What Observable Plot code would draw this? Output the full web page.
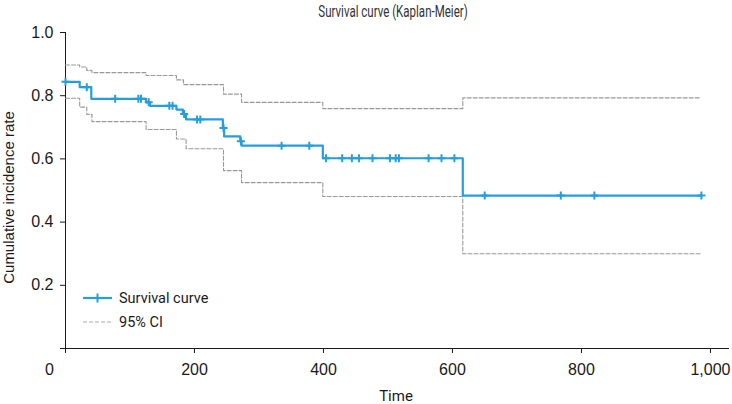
<!DOCTYPE html>
<html><head><meta charset="utf-8">
<script src="https://cdn.jsdelivr.net/npm/d3@7"></script>
<script src="https://cdn.jsdelivr.net/npm/@observablehq/plot@0.6"></script>
<style>
body{margin:0;background:#fff}
#wrap{position:relative;width:732px;height:404px}
#legend{position:absolute;left:0;top:0;pointer-events:none}
</style>
</head><body><div id="wrap"></div>
<script>
// Kaplan-Meier step curve (time of step, survival after the step)
const kmTime = [0, 22, 40, 125, 131, 172, 182, 187, 244, 246, 271, 273, 399, 616, 986];
const kmSurv = [0.844, 0.827, 0.790, 0.779, 0.768, 0.756, 0.742, 0.725, 0.698, 0.671, 0.656, 0.642, 0.602, 0.484, 0.484];
// censored observation times
const censorTime = [0, 33, 77, 113, 117, 129, 161, 166, 184, 204, 209, 245, 272, 335, 378, 404, 429, 444, 455, 476, 503, 512, 517, 563, 583, 603, 650, 768, 820, 986];
// 95% CI bounds
const ciUpperTime = [0, 22, 33, 41, 125, 172, 183, 245, 273, 399, 616, 984];
const ciUpper = [0.897, 0.891, 0.880, 0.873, 0.864, 0.850, 0.835, 0.805, 0.779, 0.759, 0.793, 0.793];
const ciLowerTime = [0, 22, 33, 41, 125, 172, 187, 245, 273, 399, 616, 984];
const ciLower = [0.792, 0.764, 0.741, 0.718, 0.693, 0.663, 0.632, 0.563, 0.525, 0.481, 0.300, 0.300];
// axis ticks
const xTicks = [0, 200, 400, 600, 800, 1000];
const yTicks = [0, 0.2, 0.4, 0.6, 0.8, 1.0];
const titleText = "Survival curve (Kaplan-Meier)";
const xLabel = "Time";
const yLabel = "Cumulative incidence rate";
const legendLabels = ["Survival curve", "95% CI"];

const blue = "#259fdb";
const km = kmTime.map((t, i) => ({t, s: kmSurv[i]}));
const survAt = t => { let s = kmSurv[0]; for (let i = 0; i < kmTime.length; i++) if (kmTime[i] <= t) s = kmSurv[i]; return s; };
const censors = censorTime.map(t => ({t, s: survAt(t)}));
const upper = ciUpperTime.map((t, i) => ({t, s: ciUpper[i]}));
const lower = ciLowerTime.map((t, i) => ({t, s: ciLower[i]}));

const chart = Plot.plot({
  width: 732, height: 404,
  marginLeft: 65, marginRight: 4, marginTop: 32, marginBottom: 56,
  x: {domain: [0, 1028]},
  y: {domain: [0, 1]},
  style: {fontFamily: "'Liberation Sans', Arial, sans-serif", fontSize: "16px", color: "#1a1a1a", background: "#fff", overflow: "visible"},
  marks: [
    Plot.axisY({ticks: yTicks, tickFormat: d => d === 0 ? "" : d.toFixed(1), tickSize: 5, tickPadding: 7, label: null, fontSize: 16}),
    Plot.axisX({ticks: xTicks, tickFormat: d => d === 0 ? "" : d3.format(",")(d), tickSize: 5, tickPadding: 10, label: null, fontSize: 16}),
    Plot.axisX({ticks: [0], tickFormat: () => "0", tickSize: 0, tickPadding: 15, dx: -16, label: null, fontSize: 16}),
    Plot.frame({anchor: "left", stroke: "#1a1a1a"}),
    Plot.frame({anchor: "bottom", stroke: "#1a1a1a"}),
    Plot.line(upper, {x: "t", y: "s", curve: "step-after", stroke: "#999", strokeWidth: 1.1, strokeDasharray: "4,2"}),
    Plot.line(lower, {x: "t", y: "s", curve: "step-after", stroke: "#999", strokeWidth: 1.1, strokeDasharray: "4,2"}),
    Plot.line(km, {x: "t", y: "s", curve: "step-after", stroke: blue, strokeWidth: 2.2}),
    Plot.dot(censors, {x: "t", y: "s", symbol: "plus", r: 2.7, stroke: blue, strokeWidth: 2}),
    Plot.text([titleText], {frameAnchor: "top", lineAnchor: "middle", textAnchor: "middle", dy: -21, dx: -4, fontFamily: "Roboto", fontSize: 16, fill: "#333", className: "ttl"}),
    Plot.text([xLabel], {frameAnchor: "bottom", lineAnchor: "middle", textAnchor: "middle", dy: 48, dx: -1, fontFamily: "Roboto", fontSize: 15, fill: "#1a1a1a"}),
    Plot.text([yLabel], {frameAnchor: "left", lineAnchor: "middle", textAnchor: "middle", rotate: -90, dx: -56, dy: 7, fontSize: 15, fill: "#1a1a1a"})
  ]
});
const wrap = document.getElementById("wrap");
wrap.appendChild(chart);

// condense the title glyphs horizontally around its own centre
const tt = chart.querySelector(".ttl text");
if (tt) {
  const b = tt.getBBox();
  const cx = b.x + b.width / 2;
  tt.setAttribute("transform", (tt.getAttribute("transform") || "") + ` translate(${cx},0) scale(0.72,1) translate(${-cx},0)`);
}

// legend overlay
const ns = "http://www.w3.org/2000/svg";
const lg = document.createElementNS(ns, "svg");
lg.setAttribute("id", "legend"); lg.setAttribute("width", 732); lg.setAttribute("height", 404);
const items = [
  {label: legendLabels[0], y: 298, stroke: blue, w: 2.2, dash: null, tick: true},
  {label: legendLabels[1], y: 322, stroke: "#aaa", w: 1.1, dash: "4,2", tick: false}
];
items.forEach(it => {
  const l = document.createElementNS(ns, "line");
  l.setAttribute("x1", 83); l.setAttribute("x2", 112); l.setAttribute("y1", it.y); l.setAttribute("y2", it.y);
  l.setAttribute("stroke", it.stroke); l.setAttribute("stroke-width", it.w);
  if (it.dash) l.setAttribute("stroke-dasharray", it.dash);
  lg.appendChild(l);
  if (it.tick) {
    const v = document.createElementNS(ns, "line");
    v.setAttribute("x1", 97.5); v.setAttribute("x2", 97.5); v.setAttribute("y1", it.y - 4.5); v.setAttribute("y2", it.y + 4.5);
    v.setAttribute("stroke", it.stroke); v.setAttribute("stroke-width", 2);
    lg.appendChild(v);
  }
  const t = document.createElementNS(ns, "text");
  t.setAttribute("x", 119); t.setAttribute("y", it.y); t.setAttribute("dy", "0.35em");
  t.setAttribute("font-family", "Roboto"); t.setAttribute("font-size", 14.5); t.setAttribute("fill", "#1a1a1a");
  t.textContent = it.label;
  lg.appendChild(t);
});
wrap.appendChild(lg);
</script>
</body></html>
